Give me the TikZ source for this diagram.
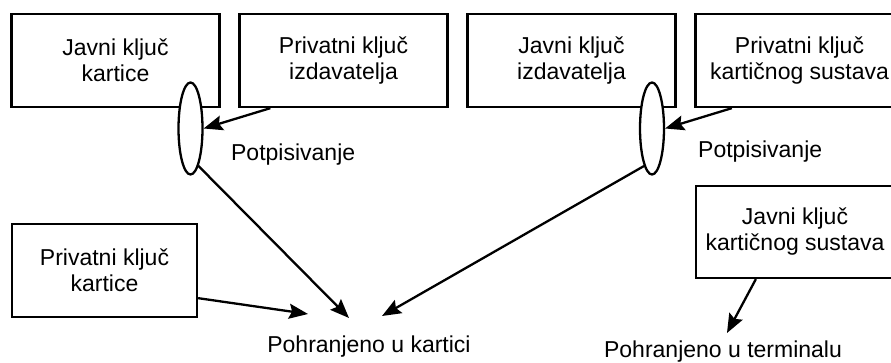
\documentclass[tikz,border=0pt]{standalone}
\usepackage{fontspec}
\setmainfont{Liberation Sans}
\usepackage{tikz}
\usetikzlibrary{arrows.meta}
\usetikzlibrary{shapes.geometric,positioning}

\begin{document}
\begin{tikzpicture}[x=1pt,y=-1pt,>={Stealth[length=19pt,width=15pt,inset=3pt]},
                    line width=2.3pt,node distance=228pt,
                    key box/.style={rectangle,draw,fill=white,align=center,minimum width=208pt,
                                    minimum height=93pt,font=\fontsize{23}{26}\selectfont},
                    sign/.style={ellipse,draw,fill=white,inner sep=0pt,minimum width=24pt,minimum height=92pt},
                    label text/.style={inner sep=0pt,font=\fontsize{23}{26}\selectfont}]

      \clip (0,0) rectangle (891,363);

      \node[key box] (1) at (115.5,60.5) {Javni ključ\\kartice};
      \node[key box] (2) [right of=1] {Privatni ključ\\izdavatelja};
      \node[key box] (3) [right of=2] {Javni ključ\\izdavatelja};
      \node[key box] (4) [right of=3] {Privatni ključ\\kartičnog sustava};
      \node[key box,minimum width=185pt] (5) at (104.5,270.5) {Privatni ključ\\kartice};
      \node[key box,minimum width=198pt,minimum height=92pt] (6) at (795,232) {Javni ključ\\kartičnog sustava};

      \node[sign] (7) at (190.5,128.5) {};
      \node[sign] (8) at (652,128.5) {};

      \node[label text,anchor=west] (11) at (230,155) {Potpisivanje};
      \node[label text,anchor=west] (12) at (697,152) {Potpisivanje};
      \node[label text] (9) at (369,347) {Pohranjeno u kartici};
      \node[label text] (10) at (723,352) {Pohranjeno u terminalu};

      \coordinate (a) at (349,318);
      \coordinate (b) at (308,314);
      \coordinate (c) at (382,316);
      \coordinate (d) at (727,333);

      \path[->]
        ([xshift=32pt]2.south west) edge (7.east)
        ([xshift=37.5pt]4.south west) edge (8.east)
        (7.-78) edge (a)
        (8.-102) edge (c)
        ([yshift=20pt]5.south east) edge (b)
        ([xshift=61pt]6.south west) edge (d);
    \end{tikzpicture}
\end{document}
